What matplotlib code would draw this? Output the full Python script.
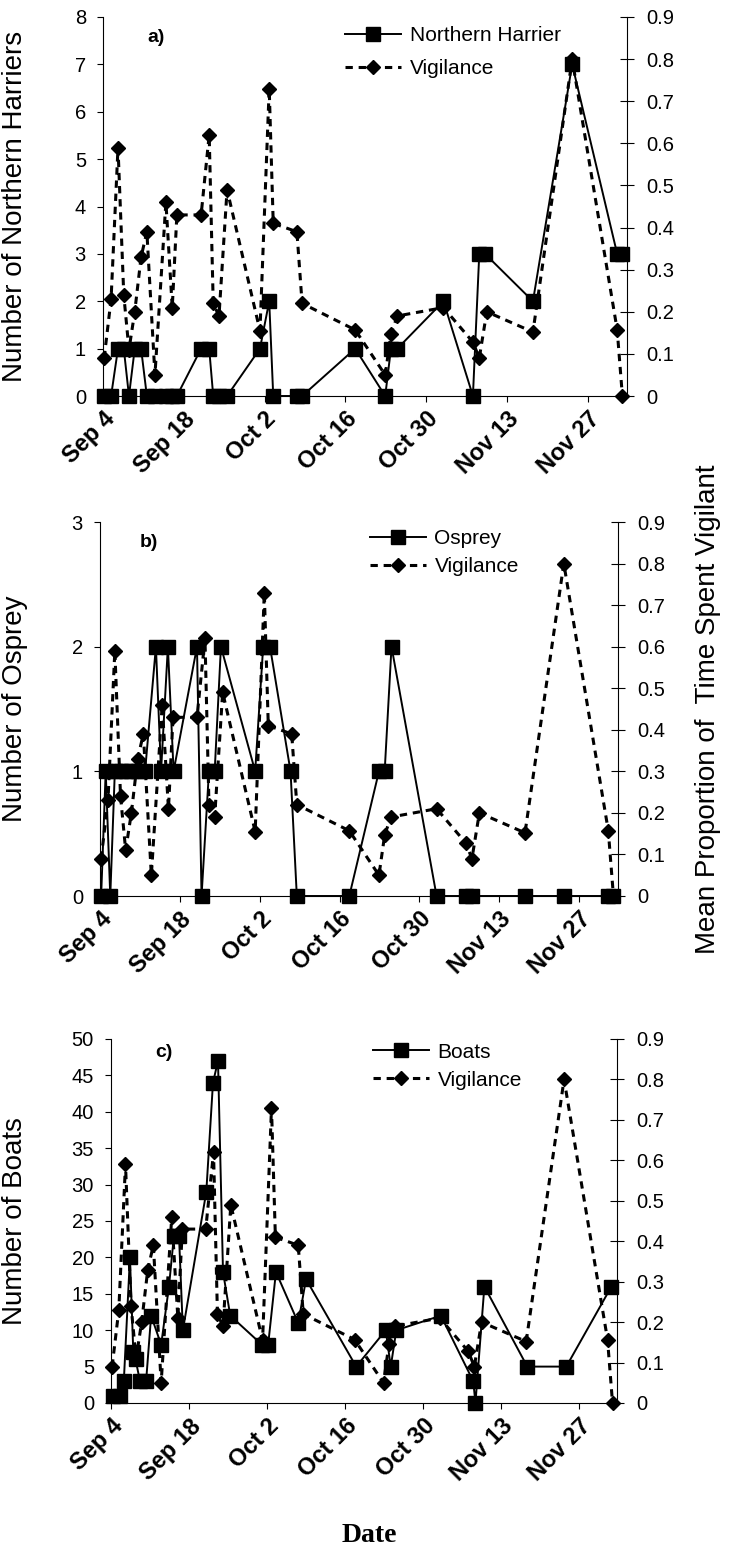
import matplotlib.pyplot as plt

plt.rcParams['font.family'] = ['Liberation Sans', 'DejaVu Sans']

# dates are days after Sep 4
date_ticks = [0, 14, 28, 42, 56, 70, 84]
date_labels = ['Sep 4', 'Sep 18', 'Oct 2', 'Oct 16', 'Oct 30', 'Nov 13', 'Nov 27']

vig_days = [0.2, 1.4, 2.6, 3.6, 4.5, 5.5, 6.6, 7.6, 9.0, 10.9, 12.0, 12.8, 17.0, 18.4, 19.1, 20.1, 21.5,
            27.2, 28.8, 29.5, 33.6, 34.5, 43.7, 48.9, 49.9, 51.0, 59.0, 64.1, 65.2, 66.5, 74.5, 81.3, 89.1, 90.0]
vig_vals = [0.09, 0.23, 0.59, 0.24, 0.11, 0.20, 0.33, 0.39, 0.05, 0.46, 0.21, 0.43, 0.43, 0.62, 0.22, 0.19, 0.49,
            0.155, 0.73, 0.41, 0.39, 0.22, 0.157, 0.05, 0.147, 0.19, 0.21, 0.128, 0.09, 0.20, 0.152, 0.80, 0.157, 0.0]
vig_ticks = [0, 0.1, 0.2, 0.3, 0.4, 0.5, 0.6, 0.7, 0.8, 0.9]
vig_tick_labels = ['0', '0.1', '0.2', '0.3', '0.4', '0.5', '0.6', '0.7', '0.8', '0.9']

harrier_days = [0.2, 1.4, 2.6, 3.6, 4.5, 5.5, 6.6, 7.6, 9.0, 10.9, 12.0, 12.8, 17.0, 18.4, 19.1, 20.1, 21.5,
                27.2, 28.8, 29.5, 33.6, 34.5, 43.7, 48.9, 49.9, 51.0, 59.0, 64.1, 65.2, 66.2, 74.5, 81.3, 89.1, 90.0]
harrier_vals = [0, 0, 1, 1, 0, 1, 1, 0, 0, 0, 0, 0, 1, 1, 0, 0, 0,
                1, 2, 0, 0, 0, 1, 0, 1, 1, 2, 0, 3, 3, 2, 7, 3, 3]

osprey_days = [0.2, 1.0, 1.8, 2.6, 3.6, 4.5, 5.5, 6.6, 7.9, 9.8, 10.7, 11.9, 12.9, 17.0, 17.8, 19.1, 20.1,
               21.2, 27.2, 28.6, 29.8, 33.4, 34.5, 43.7, 48.9, 49.9, 51.1, 59.0, 64.1, 65.2, 74.5, 81.3, 89.1, 90.0]
osprey_vals = [0, 1, 0, 1, 1, 1, 1, 1, 1, 2, 1, 2, 1, 2, 0, 1, 1,
               2, 1, 2, 2, 1, 0, 0, 1, 1, 2, 0, 0, 0, 0, 0, 0, 0]

boat_days = [0.4, 1.6, 2.3, 3.4, 4.0, 4.4, 5.2, 6.3, 7.2, 9.0, 10.4, 11.3, 12.2, 12.9, 17.1, 18.3, 19.2, 20.1,
             21.4, 27.1, 28.2, 29.6, 33.6, 35.0, 44.0, 49.3, 50.2, 51.2, 59.2, 65.0, 65.4, 67.0, 74.7, 81.7, 89.8]
boat_vals = [1, 1, 3, 20, 7, 6, 3, 3, 12, 8, 16, 23, 23, 10, 29, 44, 47, 18,
             12, 8, 8, 18, 11, 17, 5, 10, 5, 10, 12, 3, 0, 16, 5, 5, 16]

W, H = 738, 1567
fig = plt.figure(figsize=(W / 100, H / 100), dpi=100)


def rect(x0, y0, x1, y1):
    return [x0 / W, 1 - y1 / H, (x1 - x0) / W, (y1 - y0) / H]


def panel(box, days, vals, ymax, ystep, ylabel, name, letter, letter_xy, leg_xy, spacing):
    ax = fig.add_axes(rect(*box))
    ax2 = ax.twinx()
    h1, = ax.plot(days, vals, color='black', lw=1.4, marker='s', ms=9.4, clip_on=False, zorder=3)
    h2, = ax2.plot(vig_days, vig_vals, color='black', lw=2.2, ls=(0, (2.4, 1.9)),
                   marker='D', ms=6.8, clip_on=False)
    ax.set_xlim(0, 90.8)
    ax.set_ylim(0, ymax)
    ax.set_yticks(range(0, ymax + 1, ystep))
    ax2.set_ylim(0, 0.9)
    ax2.set_yticks(vig_ticks, vig_tick_labels)
    ax.set_xticks(date_ticks)
    ax.set_xticklabels(date_labels, rotation=45, ha='right', va='top', rotation_mode='anchor',
                       fontweight='bold', fontsize=17)
    for a in (ax, ax2):
        a.spines['top'].set_visible(False)
        for s in a.spines.values():
            s.set_linewidth(0.8)
    ax.spines['right'].set_visible(False)
    ax2.spines['left'].set_visible(False)
    ax2.spines['bottom'].set_visible(False)
    ax.tick_params(axis='y', direction='out', length=4.3, width=0.8, labelsize=14.5, pad=8)
    ax.tick_params(axis='x', direction='out', length=4.3, width=0.8, pad=4)
    ax2.tick_params(axis='y', direction='inout', length=9.4, width=0.8, labelsize=14.5, pad=9)
    ax.text(letter_xy[0], letter_xy[1], letter, transform=ax.transAxes, fontweight='bold',
            fontsize=14, ha='left', va='center')
    ax2.legend([h1, h2], [name, 'Vigilance'], loc='upper left', bbox_to_anchor=leg_xy,
               frameon=False, fontsize=15, handlelength=2.7, handletextpad=0.4,
               labelspacing=spacing, borderpad=0, borderaxespad=0)
    cy = 1 - (box[1] + box[3]) / 2 / H
    fig.text(15 / W, cy, ylabel, rotation=90, ha='center', va='center', fontsize=20)
    return ax


panel((103, 17, 627, 396), harrier_days, harrier_vals, 8, 1, 'Number of Northern Harriers',
      'Northern Harrier', 'a)', (0.084, 0.947), (0.462, 0.975), 0.65)
panel((100, 522, 618, 896), osprey_days, osprey_vals, 3, 1, 'Number of Osprey',
      'Osprey', 'b)', (0.077, 0.944), (0.521, 0.98), 0.4)
panel((111, 1039, 617, 1403), boat_days, boat_vals, 50, 5, 'Number of Boats',
      'Boats', 'c)', (0.087, 0.962), (0.518, 0.99), 0.43)

fig.text(708 / W, 1 - 709 / H, 'Mean Proportion of  Time Spent Vigilant', rotation=90,
         ha='center', va='center', fontsize=20)
fig.text(0.5, 1 - 1535 / H, 'Date', family=['Liberation Serif', 'DejaVu Serif'],
         fontweight='bold', fontsize=20, ha='center', va='center')

fig.savefig('out.png', dpi=100)
